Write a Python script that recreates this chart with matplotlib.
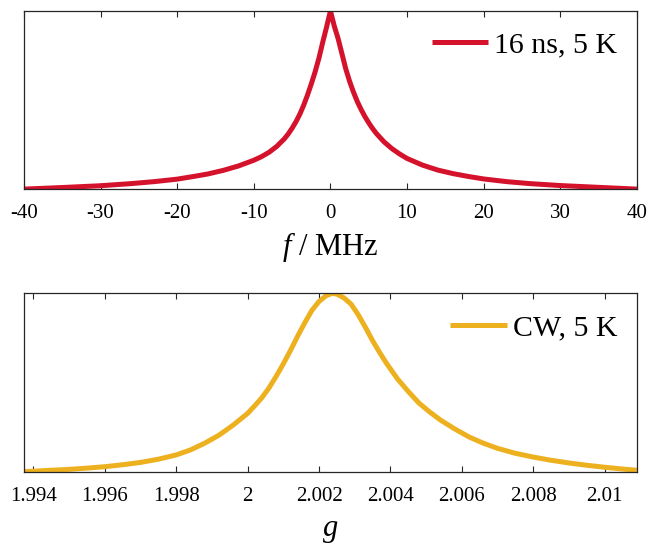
import matplotlib
matplotlib.use("Agg")
import matplotlib.pyplot as plt

plt.rcParams['font.family'] = ['Liberation Serif', 'DejaVu Serif']
plt.rcParams['mathtext.fontset'] = 'custom'
plt.rcParams['mathtext.rm'] = 'Liberation Serif'
plt.rcParams['mathtext.it'] = 'Liberation Serif:italic'
plt.rcParams['axes.unicode_minus'] = False

# pulsed spectrum (frequency offset in MHz, normalised intensity)
f_mhz = [-40, -35, -30, -26, -23, -20, -18, -16, -14, -12, -10, -9, -8, -7,
         -6, -5.5, -5, -4.5, -4, -3.5, -3, -2.5, -2, -1.5, -1, -0.5, 0,
         0.5, 1, 1.5, 2, 2.5, 3, 3.5, 4, 4.5, 5, 5.5, 6, 7, 8, 9, 10, 12,
         14, 16, 18, 20, 23, 26, 30, 35, 40]
pulsed = [0.0, 0.009, 0.019, 0.031, 0.042, 0.056, 0.07, 0.085, 0.105, 0.13,
          0.162, 0.182, 0.207, 0.24, 0.283, 0.31, 0.342, 0.378, 0.42, 0.47,
          0.527, 0.59, 0.658, 0.735, 0.825, 0.91, 1.0,
          0.915, 0.845, 0.76, 0.675, 0.605, 0.545, 0.492, 0.447, 0.407,
          0.372, 0.34, 0.312, 0.265, 0.228, 0.198, 0.172, 0.135, 0.107,
          0.087, 0.071, 0.057, 0.042, 0.031, 0.02, 0.01, 0.0]

# CW spectrum vs g value
g_val = [1.99374, 1.9945, 1.9950, 1.9955, 1.9960, 1.9965, 1.9970, 1.9975,
         1.9980, 1.9984, 1.9988, 1.9992, 1.9996, 2.0000, 2.0002, 2.0004,
         2.0006, 2.0008, 2.0010, 2.0012, 2.0014, 2.0016, 2.0018, 2.0020,
         2.0022, 2.00236, 2.0025, 2.0027, 2.0029, 2.0031, 2.0033, 2.0035,
         2.0037, 2.0039, 2.0042, 2.0045, 2.0048, 2.0051, 2.0054, 2.0058,
         2.0062, 2.0066, 2.0070, 2.0075, 2.0080, 2.0085, 2.0090, 2.0095,
         2.0100, 2.0105, 2.0109]
cw = [0.0, 0.008, 0.013, 0.02, 0.028, 0.039, 0.052, 0.07,
      0.094, 0.122, 0.16, 0.205, 0.262, 0.327, 0.37, 0.415,
      0.47, 0.535, 0.605, 0.68, 0.76, 0.835, 0.905, 0.955,
      0.988, 1.0, 0.997, 0.975, 0.94, 0.88, 0.81, 0.735,
      0.668, 0.605, 0.52, 0.45, 0.385, 0.335, 0.29, 0.24,
      0.195, 0.16, 0.131, 0.103, 0.082, 0.064, 0.049, 0.036,
      0.025, 0.015, 0.008]

f_ticks = [-40, -30, -20, -10, 0, 10, 20, 30, 40]
g_ticks = [1.994, 1.996, 1.998, 2.0, 2.002, 2.004, 2.006, 2.008, 2.010]
g_ticklabels = ['1.994', '1.996', '1.998', '2', '2.002', '2.004', '2.006',
                '2.008', '2.01']

red = '#D5122C'
yellow = '#EDB120'

fig = plt.figure(figsize=(6.52, 5.45), dpi=100)
ax1 = fig.add_axes([0.0368, 0.653, 0.940, 0.327])
ax2 = fig.add_axes([0.0368, 0.1345, 0.940, 0.327])


def style(ax):
    for s in ax.spines.values():
        s.set_color('#262626')
        s.set_linewidth(0.9)
    ax.tick_params(axis='x', direction='in', top=True, bottom=True,
                   length=4.5, width=0.8, color='#262626', pad=11)
    ax.set_yticks([])


ax1.plot(f_mhz, pulsed, color=red, lw=3.6, label='16 ns, 5 K',
         solid_capstyle='butt', solid_joinstyle='round')
ax1.set_xlim(-40, 40)
ax1.set_ylim(0, 1)
ax1.set_xticks(f_ticks)
ax1.set_xticklabels([str(t) for t in f_ticks], fontsize=15)
ax1.set_xlabel('$f$ / MHz', fontsize=22, labelpad=5)
style(ax1)
ax1.legend(loc='upper right', bbox_to_anchor=(0.968, 0.885), frameon=False,
           fontsize=21.5, handlelength=1.9, handletextpad=0.2,
           borderpad=0, borderaxespad=0)

ax2.plot(g_val, cw, color=yellow, lw=3.6, label='CW, 5 K',
         solid_capstyle='butt', solid_joinstyle='round')
ax2.set_xlim(1.99374, 2.0109)
ax2.set_ylim(0, 1)
ax2.set_xticks(g_ticks)
ax2.set_xticklabels(g_ticklabels, fontsize=15)
ax2.set_xlabel('$g$', fontsize=22, labelpad=7)
style(ax2)
ax2.legend(loc='upper right', bbox_to_anchor=(0.968, 0.88), frameon=False,
           fontsize=21.5, handlelength=1.9, handletextpad=0.2,
           borderpad=0, borderaxespad=0)

fig.savefig('out.png', dpi=100)
